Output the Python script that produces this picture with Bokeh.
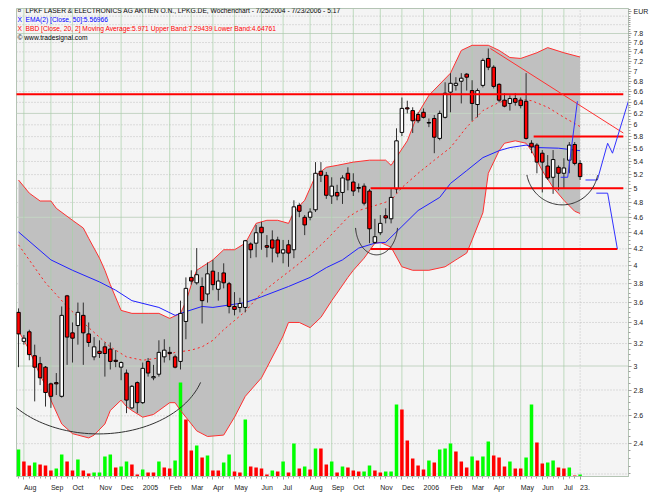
import math
import pandas as pd
from bokeh.plotting import figure
from bokeh.models import Range1d, LinearScale, FixedTicker, CustomJSTickFormatter, Label
from bokeh.embed import file_html
from bokeh.resources import INLINE

# ---------------- data ----------------
START_DATE = "2004-07-25"

TITLE_TEXT = "LPKF LASER & ELECTRONICS AG AKTIEN O.N., LPKG.DE, Wochenchart - 7/25/2004 - 7/23/2006 - 5.17"
EMA_TEXT = "EMA(2) [Close, 50]:5.56966"
BBD_TEXT = "BBD [Close, 20, 2] Moving Average:5.971 Upper Band:7.29439 Lower Band:4.64761"
COPY_TEXT = "\u00a9 www.tradesignal.com"
CURRENCY = "EUR"

opens = [3.50, 3.22, 3.31, 3.09, 3.02, 2.99, 2.85, 2.86, 2.75, 3.67,
         3.30, 3.37, 3.47, 3.29, 3.08, 3.13, 3.17, 3.15, 3.05, 2.99,
         2.94, 2.66, 2.86, 2.70, 3.04, 2.90, 2.93, 3.08, 3.12, 3.08,
         3.04, 3.41, 3.87, 3.81, 3.77, 3.69, 3.94, 3.74, 3.92, 3.80,
         3.56, 3.55, 3.55, 4.26, 4.27, 4.47, 4.24, 4.31, 4.31, 4.15,
         4.25, 4.19, 4.76, 4.60, 4.60, 4.70, 5.25, 5.19, 4.89, 4.94,
         4.94, 5.22, 5.09, 5.01, 5.03, 4.96, 4.28, 4.40, 4.62, 4.58,
         4.99, 5.87, 6.30, 6.25, 6.18, 6.22, 6.04, 6.11, 5.77, 6.13,
         6.59, 6.72, 6.80, 6.94, 6.62, 6.36, 6.72, 7.26, 7.08, 6.74,
         6.44, 6.38, 6.47, 6.44, 6.42, 5.69, 5.66, 5.53, 5.33, 5.16,
         5.31, 5.22, 5.42, 5.67, 5.37]
highs = [3.54, 3.28, 3.33, 3.19, 3.08, 3.00, 2.86, 2.94, 3.56, 3.68,
         3.40, 3.60, 3.60, 3.40, 3.26, 3.23, 3.21, 3.21, 3.14, 3.04,
         2.97, 2.84, 2.87, 3.03, 3.07, 3.01, 3.23, 3.24, 3.17, 3.10,
         3.62, 3.87, 3.95, 4.21, 3.87, 4.04, 4.07, 3.93, 4.03, 3.82,
         3.71, 3.65, 4.31, 4.28, 4.50, 4.54, 4.37, 4.43, 4.35, 4.31,
         4.31, 4.83, 4.79, 4.63, 4.72, 5.39, 5.39, 5.24, 5.16, 5.05,
         5.19, 5.31, 5.22, 5.07, 5.07, 4.99, 4.58, 4.63, 4.72, 4.99,
         5.94, 6.49, 6.43, 6.31, 6.22, 6.29, 6.11, 6.17, 6.25, 6.78,
         6.96, 6.88, 6.96, 6.96, 6.82, 6.66, 7.26, 7.47, 7.12, 6.76,
         6.57, 6.53, 6.57, 6.49, 6.96, 5.74, 5.69, 5.58, 5.50, 5.58,
         5.34, 5.45, 5.71, 5.71, 5.42]
lows = [2.99, 3.19, 3.05, 2.71, 2.84, 2.67, 2.66, 2.76, 2.74, 3.01,
        3.03, 3.19, 3.01, 3.17, 3.05, 3.07, 2.91, 2.97, 2.99, 2.88,
        2.62, 2.65, 2.62, 2.69, 2.91, 2.88, 2.91, 3.03, 3.05, 2.98,
        2.97, 3.24, 3.79, 3.79, 3.39, 3.60, 3.73, 3.62, 3.75, 3.49,
        3.47, 3.50, 3.50, 4.09, 4.10, 4.19, 4.10, 4.04, 4.10, 4.03,
        3.99, 4.09, 4.60, 4.37, 4.56, 4.67, 5.09, 4.85, 4.78, 4.83,
        4.78, 4.97, 4.89, 4.94, 4.76, 4.27, 4.26, 4.37, 4.52, 4.52,
        4.93, 5.81, 6.20, 5.86, 6.03, 6.11, 5.96, 5.53, 5.74, 6.11,
        6.22, 6.62, 6.38, 6.62, 6.07, 6.13, 6.68, 7.02, 6.66, 6.40,
        6.31, 6.25, 6.34, 6.29, 5.75, 5.53, 5.22, 4.94, 5.12, 4.92,
        4.97, 5.00, 5.22, 5.34, 5.12]
closes = [3.29, 3.25, 3.10, 2.99, 2.90, 2.78, 2.75, 2.85, 3.47, 3.26,
          3.25, 3.50, 3.30, 3.21, 3.17, 3.11, 3.11, 3.04, 3.04, 3.03,
          2.72, 2.83, 2.70, 2.98, 2.94, 2.91, 3.12, 3.14, 3.11, 2.99,
          3.49, 3.75, 3.83, 3.90, 3.62, 3.91, 3.79, 3.83, 3.81, 3.56,
          3.53, 3.59, 4.30, 4.19, 4.40, 4.40, 4.22, 4.21, 4.15, 4.19,
          4.15, 4.74, 4.68, 4.50, 4.67, 5.22, 5.19, 4.90, 5.03, 4.89,
          5.15, 5.12, 4.96, 5.00, 4.79, 4.45, 4.35, 4.52, 4.59, 4.87,
          5.73, 6.29, 6.28, 6.07, 6.07, 6.13, 6.03, 5.79, 6.20, 6.57,
          6.76, 6.76, 6.86, 6.88, 6.38, 6.62, 7.22, 7.08, 6.70, 6.44,
          6.33, 6.47, 6.40, 6.34, 5.77, 5.63, 5.39, 5.39, 5.15, 5.43,
          5.22, 5.30, 5.66, 5.37, 5.17]

# relative weekly volume (no scale shown in the chart)
volumes = [27, 15, 11, 14, 12, 11, 6, 8, 22, 15,
           6, 17, 6, 3, 4, 4, 20, 22, 9, 10,
           15, 12, 2, 7, 4, 4, 15, 9, 8, 16,
           94, 57, 26, 31, 19, 21, 6, 6, 14, 22,
           5, 4, 57, 10, 9, 8, 2, 6, 5, 15,
           4, 33, 8, 10, 7, 28, 28, 12, 15, 4,
           10, 9, 6, 5, 5, 11, 6, 4, 5, 5,
           72, 67, 36, 18, 11, 7, 16, 14, 27, 28,
           33, 25, 15, 9, 20, 16, 20, 35, 21, 19,
           10, 15, 8, 8, 19, 72, 34, 13, 14, 16,
           9, 8, 9, 1, 2]
volume_up = [1, 0, 0, 1, 0, 0, 0, 1, 1, 0,
             0, 1, 0, 0, 1, 1, 1, 1, 0, 1,
             1, 0, 0, 1, 0, 0, 1, 0, 0, 1,
             1, 0, 0, 1, 0, 1, 0, 0, 1, 1,
             0, 0, 1, 0, 0, 0, 0, 1, 0, 1,
             0, 1, 0, 1, 0, 1, 0, 0, 1, 0,
             1, 0, 0, 0, 1, 1, 0, 0, 1, 1,
             1, 0, 0, 0, 0, 0, 1, 0, 1, 1,
             1, 0, 0, 0, 1, 0, 1, 1, 0, 0,
             0, 1, 0, 0, 1, 1, 0, 0, 1, 1,
             0, 0, 1, 0, 1]

# Bollinger band (20, 2) and EMA(50), read at sample weeks
upper_weeks = [0, 2, 4, 6, 7, 10, 12, 13, 15, 16, 17, 19, 21, 24, 26, 28, 30, 31, 32, 33,
               36, 38, 40, 42, 44, 46, 48, 50, 51, 53, 55, 57, 59, 62, 65, 68, 69, 72, 74, 76,
               80, 82, 84, 87, 89, 91, 93, 96, 98, 101, 104]
upper_band = [5.12, 4.93, 4.82, 4.82, 4.72, 4.56, 4.46, 4.33, 4.09, 3.95, 3.79, 3.52, 3.49, 3.49, 3.49, 3.44, 3.49, 3.61, 3.79, 3.95,
              4.07, 4.19, 4.19, 4.27, 4.52, 4.56, 4.56, 4.52, 4.67, 4.83, 5.18, 5.31, 5.34, 5.39, 5.42, 5.42, 5.34, 5.73, 6.20, 6.53,
              6.96, 7.43, 7.54, 7.54, 7.43, 7.28, 7.26, 7.38, 7.49, 7.38, 7.29]
lower_weeks = [0, 2, 4, 5, 6, 8, 10, 11, 13, 14, 16, 17, 19, 20, 21, 23, 25, 28, 29, 30,
               32, 33, 35, 38, 40, 42, 45, 48, 49, 50, 52, 54, 56, 58, 59, 61, 62, 64, 66, 67,
               69, 71, 73, 76, 79, 81, 83, 84, 86, 87, 89, 90, 92, 94, 95, 97, 99, 101, 103, 104]
lower_band = [3.32, 3.14, 2.92, 2.84, 2.72, 2.54, 2.47, 2.46, 2.44, 2.46, 2.54, 2.64, 2.72, 2.67, 2.64, 2.59, 2.61, 2.70, 2.70, 2.64,
              2.54, 2.49, 2.45, 2.46, 2.59, 2.75, 2.90, 3.17, 3.27, 3.40, 3.40, 3.35, 3.45, 3.62, 3.70, 3.87, 3.95, 4.09, 4.27, 4.28,
              4.22, 3.99, 3.95, 3.95, 3.99, 4.07, 4.15, 4.31, 4.66, 5.22, 5.57, 5.69, 5.73, 5.69, 5.57, 5.26, 5.01, 4.83, 4.68, 4.65]
ma_weeks = [0, 5, 9, 13, 17, 20, 23, 26, 29, 32, 34, 36, 38, 42, 45, 48, 51, 54, 57, 61,
            63, 67, 69, 71, 74, 77, 80, 83, 86, 89, 92, 95, 98, 101, 104]
ma_band = [4.25, 3.81, 3.56, 3.35, 3.17, 3.08, 3.05, 3.07, 3.12, 3.14, 3.17, 3.23, 3.33, 3.51, 3.70, 3.84, 3.98, 4.13, 4.31, 4.60,
           4.69, 4.78, 4.83, 5.01, 5.22, 5.42, 5.62, 5.96, 6.25, 6.40, 6.47, 6.43, 6.31, 6.13, 5.97]
ema_weeks = [0, 6, 10, 15, 18, 21, 26, 29, 30, 34, 36, 42, 45, 50, 54, 57, 60, 63, 66, 68,
             71, 74, 78, 80, 83, 86, 89, 91, 94, 96, 100, 104]
ema_50 = [4.41, 4.07, 3.95, 3.82, 3.73, 3.62, 3.55, 3.47, 3.49, 3.56, 3.55, 3.60, 3.66, 3.77, 3.87, 3.98, 4.07, 4.21, 4.27, 4.28,
          4.48, 4.69, 4.87, 5.07, 5.26, 5.46, 5.57, 5.62, 5.66, 5.62, 5.61, 5.57]

# drawn annotations (price level, first week, last week)
support_levels = [6.55, 5.80, 5.00, 4.20]
support_start = [-1.0, 95.4, 65.2, 65.2]
support_end = [112.0, 112.0, 112.0, 110.9]
trend_weeks = [87.4, 112.0]
trend_prices = [7.47, 5.86]
proj_weeks = [[100.4, 101.7, 103.5], [105.0, 107.2, 109.1, 110.0, 113.0], [107.0, 109.1, 110.9]]
proj_prices = [[5.16, 5.16, 6.42], [5.12, 5.12, 5.69, 5.53, 6.44], [4.93, 4.93, 4.20]]
# cup arcs: centre week, centre price, half width (weeks), half depth (log units), start/end angle
arcs = [(14.8, 3.045, 19.8, 0.210, 0.30, 3.10),
        (66.3, 4.50, 3.9, 0.086, 0.10, 3.04),
        (100.7, 5.30, 6.67, 0.106, 0.20, 2.95)]

PRICE_TICKS = [2.4, 2.6, 2.8, 3.0, 3.2, 3.4, 3.6, 3.8, 4.0, 4.2, 4.4, 4.6, 4.8, 5.0,
               5.2, 5.4, 5.6, 5.8, 6.0, 6.2, 6.4, 6.6, 6.8, 7.0, 7.2, 7.4, 7.6, 7.8]
SOLID_LEVELS = [3.0, 4.6, 6.2, 7.8]
GRID_LEVELS = [2.2] + PRICE_TICKS + [8.0, 8.2]

# ---------------- layout helpers (page px -> data) ----------------
FRAME_L, FRAME_R, FRAME_T, FRAME_B = 16, 628, 8, 476
X0_PX, PX_PER_WEEK = 18.0, 5.4
REF_PX, REF_PRICE, PX_PER_LN = 33.0, 7.8, 348.0


def wk(px):
    return (px - X0_PX) / PX_PER_WEEK


def pr(py):
    return REF_PRICE * math.exp(-(py - REF_PX) / PX_PER_LN)


n = len(closes)
idx = list(range(n))
dates = pd.date_range(START_DATE, periods=n, freq="7D")

month_ticks, overrides = [], {}
for i in range(1, n):
    if dates[i].month != dates[i - 1].month:
        month_ticks.append(i)
        overrides[i] = str(dates[i].year) if dates[i].month == 1 else dates[i].strftime("%b")
month_ticks.append(n - 1)
overrides[n - 1] = f"{dates[-1].day}."

FONT = "Liberation Sans"
CUR_TICK = pr(11)

p = figure(frame_width=FRAME_R - FRAME_L, frame_height=FRAME_B - FRAME_T,
           x_range=Range1d(wk(FRAME_L), wk(FRAME_R)),
           y_range=Range1d(pr(FRAME_B), pr(FRAME_T)),
           y_axis_type="log", y_axis_location="right",
           output_backend="svg", toolbar_location=None,
           min_border_left=FRAME_L, min_border_right=30, min_border_top=FRAME_T, min_border_bottom=23)
p.background_fill_color = "#f4f4f4"
p.border_fill_color = "white"
p.outline_line_color = "#b4c4b4"
p.xgrid.visible = False
p.ygrid.visible = False
p.extra_y_ranges = {"vol": Range1d(0, FRAME_B - FRAME_T)}
p.extra_y_scales = {"vol": LinearScale()}

# band fill
band_x = upper_weeks + lower_weeks[::-1]
band_y = upper_band + lower_band[::-1]
p.patch(band_x, band_y, fill_color="#c0c0c0", line_color=None)

# grid
xl = [wk(FRAME_L), wk(FRAME_R)]
dot_levels = [v for v in GRID_LEVELS if v not in SOLID_LEVELS]
p.multi_line(xs=[xl] * len(dot_levels), ys=[[v, v] for v in dot_levels],
             line_color="#c0c0c0", line_dash="1 2", line_width=1)
p.multi_line(xs=[xl] * len(SOLID_LEVELS), ys=[[v, v] for v in SOLID_LEVELS],
             line_color="#c4d4c4", line_width=1)
yl = [pr(FRAME_B), pr(FRAME_T)]
p.multi_line(xs=[[t, t] for t in month_ticks[:-1]], ys=[yl] * (len(month_ticks) - 1),
             line_color="#a8d0a8", line_alpha=0.7, line_width=1)
p.line([n - 1, n - 1], yl, line_color="#c0c0c0", line_dash="1 2")

# volume
vcol = ["#00ff00" if u else "#ff0000" for u in volume_up]
p.vbar(x=idx, width=0.65, top=volumes, bottom=0, y_range_name="vol",
       fill_color=vcol, line_color=None)

# indicator lines
p.line(upper_weeks, upper_band, line_color="#ff3030", line_width=1)
p.line(lower_weeks, lower_band, line_color="#ff3030", line_width=1)
p.line(ma_weeks, ma_band, line_color="#ff2020", line_width=1, line_dash="2 3")
p.line(ema_weeks, ema_50, line_color="#2020ff", line_width=1)

# candles
body_top = [max(o, c) for o, c in zip(opens, closes)]
body_bot = [min(o, c) for o, c in zip(opens, closes)]
body_col = ["white" if c >= o else "#ff0000" for o, c in zip(opens, closes)]
p.segment(x0=idx, y0=highs, x1=idx, y1=lows, line_color="#303030", line_width=1)
p.vbar(x=idx, width=0.65, top=body_top, bottom=body_bot, fill_color=body_col,
       line_color="#000000", line_width=1)

# annotations
for lvl, a, b in zip(support_levels, support_start, support_end):
    p.line([a, b], [lvl, lvl], line_color="#ff0000", line_width=2)
p.line(trend_weeks, trend_prices, line_color="#ff3030", line_width=1)
for xs, ys in zip(proj_weeks, proj_prices):
    p.line(xs, ys, line_color="#3030ff", line_width=1)
for cw, cp, aw, bl, t0, t1 in arcs:
    ts = [t0 + (t1 - t0) * k / 80 for k in range(81)]
    p.line([cw + aw * math.cos(t) for t in ts], [cp * math.exp(-bl * math.sin(t)) for t in ts],
           line_color="#303030", line_width=1)

# axes
xa = p.xaxis[0]
xa.ticker = FixedTicker(ticks=month_ticks, minor_ticks=idx)
xa.major_label_overrides = overrides
xa.major_label_orientation = -0.0001
xa.major_label_text_align = "left"
xa.major_label_standoff = 8
xa.major_label_text_font = FONT
xa.major_label_text_font_size = "7px"
xa.major_label_text_color = "#222222"
xa.axis_line_color = "#b4c4b4"
xa.major_tick_out = 3
xa.major_tick_in = 0
xa.minor_tick_out = 2
xa.minor_tick_in = 0
xa.major_tick_line_color = "#909090"
xa.minor_tick_line_color = "#a0a0a0"

ya = p.yaxis[0]
minor = [round(2.2 + 0.05 * k, 2) for k in range(125)]
ya.ticker = FixedTicker(ticks=PRICE_TICKS + [CUR_TICK], minor_ticks=minor)
ya.formatter = CustomJSTickFormatter(
    args=dict(cur=CURRENCY, cut=8.2),
    code="if (tick > cut) { return cur; } return String(Math.round(tick*10)/10);")
ya.major_label_standoff = 2
ya.major_label_text_font = FONT
ya.major_label_text_font_size = "7px"
ya.major_label_text_color = "#222222"
ya.axis_line_color = "#b4c4b4"
ya.major_tick_out = 3
ya.major_tick_in = 0
ya.minor_tick_out = 2
ya.minor_tick_in = 0
ya.major_tick_line_color = "#909090"
ya.minor_tick_line_color = "#a0a0a0"


# header texts
def add_label(px, py, text, color):
    p.add_layout(Label(x=wk(px), y=pr(py), text=text, text_color=color, text_font=FONT,
                       text_font_size="6.7px", text_align="left", text_baseline="middle"))


add_label(17, 10, "\u00a4", "#333333")
add_label(25, 10, TITLE_TEXT, "#000000")
add_label(17, 19, "X", "#0000ff")
add_label(25, 19, EMA_TEXT, "#0000ff")
add_label(17, 28, "X", "#ff0000")
add_label(25, 28, BBD_TEXT, "#ff0000")
add_label(17, 37, COPY_TEXT, "#000000")

open("out.html", "w").write(file_html(p, INLINE))
